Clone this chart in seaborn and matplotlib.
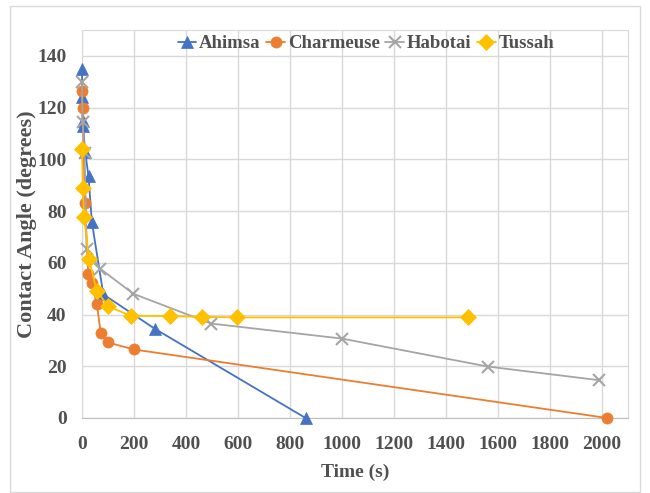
import numpy as np
import pandas as pd
import seaborn as sns
import matplotlib
matplotlib.use("Agg")
import matplotlib.pyplot as plt
from matplotlib.patches import Rectangle

# data
ahimsa_t = [0, 1, 2, 4, 12, 25, 38, 82, 280, 860]
ahimsa_a = [135, 124, 115, 113, 103, 93.5, 75.7, 47.8, 34.5, 0]

charm_t = [0, 2, 11, 24, 39, 57, 72, 100, 199, 2020]
charm_a = [126.5, 120, 83, 55.5, 52, 44, 33, 29.2, 26.5, 0]

habo_t = [0, 2, 10, 18, 70, 198, 497, 1000, 1560, 1990]
habo_a = [130, 114.5, 102.5, 65.5, 57.7, 48, 36.5, 30.7, 19.9, 14.6]

tus_t = [0, 3, 8, 27, 57, 101, 187, 338, 461, 598, 1485]
tus_a = [104, 89, 77.8, 61.3, 49, 43.2, 39.5, 39.4, 39.1, 38.9, 38.9]

series = ["Ahimsa", "Charmeuse", "Habotai", "Tussah"]
colors = ["#4472C4", "#ED7D31", "#A5A5A5", "#FFC000"]
markers = ["^", "o", "x", "D"]
msizes = [9, 8, 8, 8]

df = pd.concat([
    pd.DataFrame({"Time": ahimsa_t, "Angle": ahimsa_a, "Fabric": "Ahimsa"}),
    pd.DataFrame({"Time": charm_t, "Angle": charm_a, "Fabric": "Charmeuse"}),
    pd.DataFrame({"Time": habo_t, "Angle": habo_a, "Fabric": "Habotai"}),
    pd.DataFrame({"Time": tus_t, "Angle": tus_a, "Fabric": "Tussah"}),
])

sns.set_style("white")
plt.rcParams["font.family"] = ["Liberation Serif", "DejaVu Serif"]
txt_col = "#505050"

fig = plt.figure(figsize=(6.5, 4.93), dpi=100)
ax = fig.add_axes([82 / 650, 1 - 418 / 493, 546 / 650, 388 / 493])

for name, c, m, ms in zip(series, colors, markers, msizes):
    d = df[df["Fabric"] == name]
    sns.lineplot(data=d, x="Time", y="Angle", color=c, marker=m, markersize=ms,
                 markeredgecolor=c, markeredgewidth=1.5 if m == "x" else 0.5,
                 linewidth=1.3, sort=False, label=name, ax=ax, zorder=3, clip_on=False)

ax.set_xlim(0, 2100)
ax.set_ylim(0, 150)
ax.set_xticks(np.arange(0, 2001, 200))
ax.set_yticks(np.arange(0, 141, 20))
ax.grid(True, color="#D9D9D9", linewidth=1)
ax.set_axisbelow(True)
for s in ax.spines.values():
    s.set_color("#D9D9D9")
ax.spines["bottom"].set_color("#BFBFBF")
ax.tick_params(axis="y", length=0, labelsize=14, labelcolor=txt_col, pad=11)
ax.tick_params(axis="x", length=0, labelsize=14, labelcolor=txt_col, pad=13)
for lab in ax.get_xticklabels() + ax.get_yticklabels():
    lab.set_fontweight("bold")

ax.set_xlabel("Time (s)", fontsize=14, fontweight="bold", color=txt_col, labelpad=8)
ax.set_ylabel("Contact Angle (degrees)", fontsize=16, fontweight="bold", color=txt_col, labelpad=0)

leg = ax.legend(ncol=4, loc="center", bbox_to_anchor=(0.52, 0.965), frameon=False,
                handlelength=1.0, handletextpad=0.15, columnspacing=0.3,
                prop={"size": 13.5, "weight": "bold"})
for t in leg.get_texts():
    t.set_color(txt_col)

fig.patches.append(Rectangle((10 / 650, 1 / 493), 630 / 650, 486 / 493, transform=fig.transFigure,
                             fill=False, edgecolor="#D9D9D9", linewidth=1))

fig.savefig("out.png", dpi=100)
